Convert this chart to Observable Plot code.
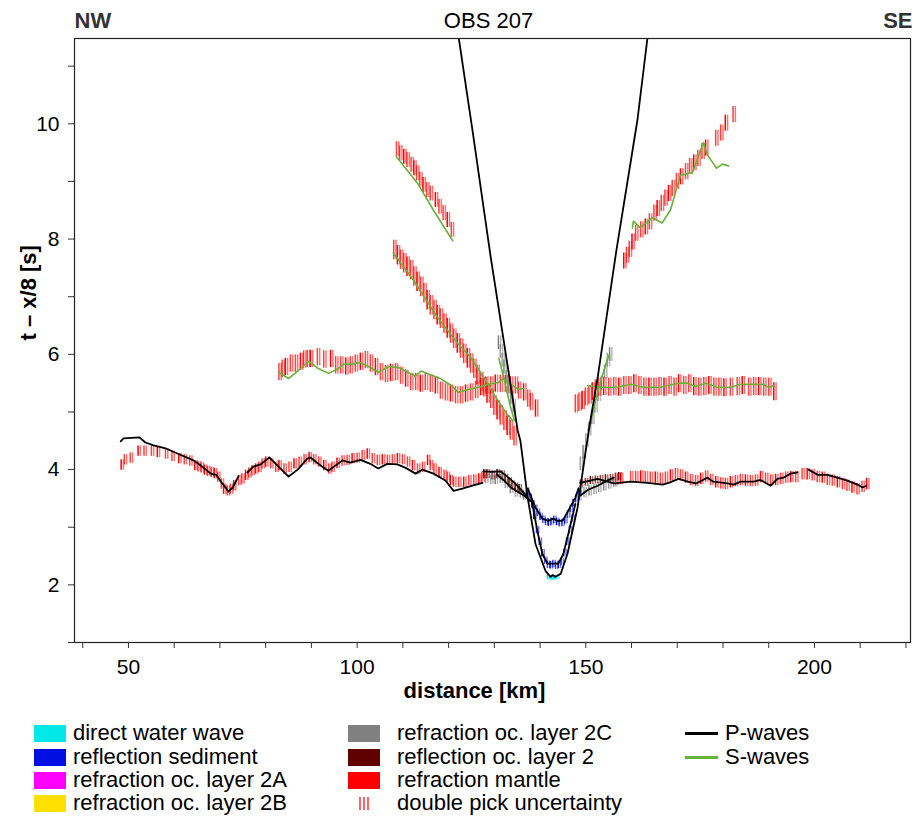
<!DOCTYPE html>
<html><head><meta charset="utf-8">
<script src="https://cdn.jsdelivr.net/npm/d3@7"></script>
<script src="https://cdn.jsdelivr.net/npm/@observablehq/plot@0.6"></script>
<style>
body{margin:0;background:#fff;font-family:"Liberation Sans",Arial,sans-serif;}
#wrap{position:relative;width:912px;height:819px;overflow:hidden;}
.lg{position:absolute;font-size:22px;line-height:22px;color:#000;white-space:nowrap;}
.sw{position:absolute;}
</style></head><body>
<div id="wrap"><div id="chart"></div><div id="legend"></div></div>
<script>
// ---------- axes ----------
const xTicks = [40,50,60,70,80,90,100,110,120,130,140,150,160,170,180,190,200,210,220];
const xLabels = [50,100,150,200];
const yTicks = [1,2,3,4,5,6,7,8,9,10,11];
const yLabels = [2,4,6,8,10];
const xDomain = [38.2, 221];
const yDomain = [1, 11.48];
const titleLeft = "NW", titleCenter = "OBS 207", titleRight = "SE";
const xTitle = "distance [km]", yTitle = "t \u2013 x/8 [s]";

// ---------- picks [distance km, reduced time s] ----------
const pnWest = [[48.4,4.08],[49.1,4.17],[50.4,4.20],[52.1,4.32],[53.4,4.32],[55.0,4.32],[56.3,4.30],[58.1,4.27],[59.5,4.23],[61.0,4.19],[62.2,4.17],[63.4,4.15],[64.5,4.07],[65.2,4.05],[65.9,4.03],[66.6,3.99],[67.3,3.97],[68.1,3.95],[68.8,3.93],[69.5,3.87],[70.3,3.75],[70.8,3.66],[71.6,3.63],[72.3,3.66],[73.0,3.72],[74.1,3.81],[74.8,3.84],[75.6,3.90],[76.3,3.94],[77.0,3.98],[77.8,4.01],[78.5,4.04],[79.2,4.10],[80.0,4.13],[81.1,4.10],[82.2,4.04],[82.9,4.07],[84.0,4.01],[85.1,4.04],[86.2,4.10],[87.3,4.13],[88.4,4.17],[89.5,4.21],[90.5,4.17],[91.6,4.13],[92.7,4.07],[93.8,4.01],[94.5,4.04],[95.6,4.11],[96.7,4.15],[97.8,4.16],[98.9,4.19],[100.0,4.20],[101.1,4.24],[102.2,4.27],[103.3,4.19],[104.4,4.16],[105.5,4.17],[106.6,4.16],[107.7,4.17],[108.8,4.19],[109.9,4.17],[111.0,4.13],[112.1,4.07],[113.2,4.01],[114.3,4.04],[115.4,4.16],[116.0,4.07],[116.8,4.01],[117.9,3.95],[119.0,3.90],[119.7,3.87],[120.4,3.81],[121.1,3.78],[122.2,3.78],[123.3,3.78],[124.4,3.81],[125.5,3.82],[126.6,3.84],[127.3,3.87]];
const pnEast = [[156.5,3.82],[157.6,3.84],[159.8,3.87],[160.9,3.87],[162.0,3.88],[163.0,3.87],[164.1,3.86],[165.2,3.86],[166.3,3.84],[167.4,3.86],[168.5,3.90],[169.6,3.92],[170.7,3.90],[171.8,3.86],[172.9,3.82],[174.0,3.80],[175.1,3.84],[176.2,3.88],[177.3,3.82],[178.4,3.78],[179.5,3.76],[180.5,3.75],[181.6,3.78],[182.7,3.80],[183.8,3.82],[184.9,3.81],[186.0,3.80],[187.1,3.81],[188.2,3.87],[189.3,3.84],[190.4,3.81],[191.5,3.82],[192.6,3.84],[193.7,3.86],[194.8,3.87],[195.9,3.87],[197.3,3.92],[198.4,3.92],[199.5,3.90],[200.6,3.87],[201.7,3.86],[202.8,3.82],[203.9,3.81],[205.0,3.78],[206.1,3.75],[207.1,3.72],[208.2,3.69],[209.3,3.66],[210.4,3.70],[211.4,3.75]];
const sWest = [[82.9,5.69],[83.6,5.75],[84.3,5.78],[85.4,5.84],[86.5,5.84],[87.6,5.87],[88.3,5.91],[89.1,5.92],[89.8,5.92],[91.3,5.95],[92.7,5.91],[94.2,5.92],[95.3,5.81],[96.4,5.81],[97.5,5.79],[98.5,5.81],[99.6,5.84],[100.7,5.87],[101.8,5.90],[102.9,5.84],[104.0,5.78],[105.1,5.69],[106.2,5.66],[107.3,5.68],[108.4,5.69],[109.5,5.63],[110.6,5.58],[111.7,5.52],[112.8,5.52],[113.8,5.49],[114.9,5.52],[116.0,5.49],[117.1,5.46],[118.2,5.37],[119.3,5.34],[120.4,5.32],[121.5,5.29],[122.6,5.29],[123.7,5.32],[124.8,5.34],[125.9,5.38],[127.0,5.43],[128.1,5.46],[129.2,5.46],[130.2,5.49],[131.3,5.49],[132.4,5.49],[133.5,5.46],[134.6,5.46],[135.3,5.37],[136.4,5.34],[137.3,5.23],[137.9,5.17],[139.0,5.06]];
const sEast = [[147.7,5.14],[148.5,5.17],[149.2,5.20],[149.9,5.26],[150.7,5.29],[151.4,5.35],[152.1,5.40],[152.8,5.43],[153.9,5.44],[155.0,5.43],[156.1,5.44],[157.2,5.43],[158.3,5.46],[159.4,5.46],[160.5,5.49],[161.6,5.46],[162.7,5.43],[163.8,5.43],[164.9,5.43],[166.0,5.44],[167.1,5.43],[168.2,5.46],[169.3,5.43],[170.3,5.49],[171.4,5.46],[172.5,5.49],[173.6,5.44],[174.7,5.43],[175.8,5.44],[176.9,5.46],[178.0,5.43],[179.1,5.43],[180.2,5.42],[181.6,5.43],[183.1,5.44],[184.2,5.46],[185.6,5.43],[186.7,5.44],[187.8,5.44],[188.9,5.43],[190.0,5.43],[191.1,5.35]];
const sSteep1 = [[108.6,9.56],[109.3,9.49],[110.2,9.43],[110.9,9.37],[111.8,9.29],[112.4,9.23],[113.0,9.14],[113.7,9.03],[114.4,8.94],[115.2,8.85],[116.0,8.79],[117.1,8.68],[117.9,8.56],[118.8,8.45],[119.7,8.33],[120.6,8.16]];
const sSteep2 = [[108.0,7.81],[108.8,7.72],[109.5,7.64],[110.2,7.58],[110.9,7.52],[111.7,7.46],[112.4,7.35],[113.1,7.26],[113.9,7.17],[114.6,7.06],[115.3,6.94],[116.0,6.85],[116.8,6.77],[117.5,6.68],[118.2,6.62],[119.0,6.53],[119.7,6.45],[120.4,6.36],[121.1,6.27],[121.9,6.19],[122.6,6.10],[123.3,6.01],[124.1,5.93],[124.8,5.84],[125.5,5.75],[126.2,5.64],[127.0,5.52],[127.7,5.43],[128.4,5.32],[129.2,5.23],[129.9,5.11],[130.6,5.03],[131.3,4.94],[132.1,4.85],[132.8,4.76],[133.5,4.68],[134.3,4.58]];
const sSteepE = [[158.3,7.62],[158.9,7.72],[159.5,7.82],[160.1,7.95],[160.9,8.10],[162.0,8.16],[163.0,8.21],[163.9,8.30],[164.9,8.45],[165.6,8.53],[166.5,8.62],[167.3,8.71],[168.1,8.79],[168.9,8.88],[169.8,9.00],[170.7,9.08],[171.8,9.17],[172.7,9.26],[173.6,9.32],[174.5,9.40],[175.4,9.52],[176.2,9.58],[178.4,9.75],[179.5,9.84],[180.5,10.01],[182.2,10.16]];
const grey2cSteepW = [[130.9,6.20],[131.3,6.05],[131.7,5.90],[132.1,5.78],[132.6,5.60],[133.1,5.42],[133.6,5.25],[134.1,5.10]];
const grey2cSteepE = [[148.8,4.10],[149.4,4.30],[150.0,4.50],[150.6,4.70],[151.3,4.90],[152.0,5.10],[152.7,5.30],[153.4,5.50],[154.1,5.70],[154.7,5.90],[155.2,6.00]];
const grey2cW = [[128.1,3.84],[129.2,3.82],[130.2,3.82],[131.3,3.84],[132.4,3.75],[133.5,3.66],[134.6,3.60],[135.7,3.58],[136.4,3.55]];
const grey2cE = [[148.5,3.55],[149.6,3.60],[150.7,3.63],[151.8,3.66],[152.8,3.69],[153.9,3.72],[155.0,3.75],[156.1,3.78]];
const refl2W = [[127.7,3.92],[128.4,3.92],[129.5,3.90],[130.6,3.92],[131.7,3.90],[132.4,3.84],[133.2,3.78],[133.9,3.72],[134.6,3.69],[135.4,3.66]];
const refl2E = [[148.8,3.75],[149.9,3.78],[151.0,3.81],[152.1,3.82],[153.2,3.83],[154.3,3.84],[155.4,3.85],[156.5,3.87],[157.2,3.88]];
const sedUpper = [[137.0,3.62],[137.6,3.50],[138.2,3.40],[138.8,3.32],[139.4,3.25],[140.0,3.18],[140.6,3.13],[141.2,3.09],[141.8,3.08],[142.4,3.10],[143.0,3.13],[143.6,3.09],[144.2,3.07],[144.8,3.08],[145.4,3.12],[146.0,3.22],[146.6,3.32],[147.2,3.42],[147.8,3.50],[148.4,3.62]];
const sedLower = [[138.6,3.20],[139.2,2.95],[139.8,2.75],[140.4,2.55],[141.0,2.42],[141.6,2.35],[142.2,2.34],[142.8,2.36],[143.4,2.33],[144.0,2.35],[144.6,2.40],[145.2,2.55],[145.8,2.75],[146.4,2.95],[147.0,3.15]];
const waterPicks = [[141.6,2.13],[142.0,2.12],[142.4,2.11],[142.8,2.12],[143.2,2.12],[143.6,2.13]];
// half pick uncertainties (s)
const uncPn = 0.09, uncS = 0.15, uncSteep1 = 0.13, uncSteep2 = 0.17, uncSteepE = 0.14, uncCrust = 0.08, uncSed = 0.065, uncWater = 0.035;

// ---------- model travel-time curves ----------
const pWest1 = [[48.3,4.49],[48.9,4.54],[52.4,4.56],[53.7,4.47],[55.5,4.42],[58.1,4.37],[60.7,4.28],[64.2,4.16],[65.8,4.07],[68.0,3.93],[69.2,3.91],[70.5,3.76],[71.9,3.62],[72.8,3.69],[74.1,3.89]];
const pWest2 = [[76.0,3.95],[77.3,4.05],[78.9,4.09],[80.8,4.21],[82.6,4.07],[85.0,3.88],[87.0,4.00],[89.1,4.19],[89.8,4.21],[92.0,4.07],[93.7,3.98],[96.8,4.16],[98.5,4.12],[100.7,4.17],[102.9,4.10],[104.6,4.02],[106.6,4.10],[108.8,4.09],[110.6,4.03],[112.8,3.93],[114.3,4.00],[116.7,3.93],[119.3,3.81],[121.1,3.63],[123.0,3.67],[125.2,3.72],[127.4,3.77]];
const pWest3 = [[127.6,3.97],[129.5,3.96],[131.3,3.97],[132.5,3.90],[134.0,3.80],[135.5,3.68],[137.0,3.55]];
const pWest4 = [[130.5,3.92],[132.0,3.82],[133.5,3.70],[135.0,3.62],[136.5,3.55],[138.0,3.45]];
const pEast1 = [[148.8,3.55],[150.5,3.65],[152.6,3.72],[154.5,3.80],[156.1,3.86]];
const pEast2 = [[148.8,3.77],[152.6,3.84],[156.1,3.76],[159.8,3.79],[163.5,3.77],[166.8,3.74],[168.1,3.77],[170.3,3.84],[172.3,3.79],[174.1,3.76],[176.6,3.86],[177.9,3.79],[181.0,3.76],[182.3,3.74],[183.9,3.79],[186.7,3.79],[188.2,3.82],[190.4,3.72],[191.9,3.84],[193.2,3.86],[194.8,3.93],[196.3,3.95]];
const pEast3 = [[198.7,4.00],[200.7,3.91],[202.8,3.91],[205.0,3.86],[207.2,3.81],[209.4,3.74],[210.5,3.69],[211.4,3.72]];
const waterWave = [[122.2,11.5],[125.2,9.90],[129.2,7.69],[135.1,4.68],[135.7,4.50],[137.3,3.51],[139.0,2.71],[141.2,2.24],[142.3,2.14],[142.8,2.17],[143.3,2.14],[144.5,2.19],[146.0,2.54],[148.2,3.34],[149.9,4.28],[151.0,4.85],[152.6,5.60],[156.7,7.81],[161.3,10.07],[163.5,11.5]];
const sedDeep = [[137.9,3.58],[139.4,2.94],[140.5,2.54],[141.6,2.37],[142.9,2.37],[144.0,2.37],[145.1,2.54],[146.2,2.89],[147.7,3.40]];
const sedShallow = [[137.3,3.67],[139.0,3.34],[140.5,3.15],[141.8,3.11],[142.9,3.15],[143.8,3.11],[144.9,3.11],[146.2,3.29],[147.7,3.51],[148.4,3.67]];
const sLine1 = [[108.6,9.43],[113.2,8.97],[116.7,8.50],[120.9,7.97]];
const sLine2 = [[107.9,7.76],[112.3,7.29],[117.6,6.64],[122.0,6.19],[124.8,5.95],[128.5,5.50],[130.6,5.22],[132.9,4.95],[134.0,4.85]];
const sLine3 = [[82.8,5.69],[85.0,5.58],[87.2,5.72],[89.4,5.88],[91.4,5.76],[93.8,5.67],[96.0,5.76],[97.0,5.83],[99.0,5.83],[100.6,5.86],[102.5,5.79],[104.7,5.69],[106.9,5.79],[109.1,5.77],[111.1,5.69],[112.7,5.62],[114.0,5.71],[116.2,5.64],[118.4,5.57],[120.6,5.46],[122.1,5.34],[124.3,5.39],[126.5,5.43],[128.7,5.48],[130.9,5.51],[132.0,5.58],[133.1,5.50],[135.3,5.39],[136.4,5.41]];
const sLine4 = [[131.0,5.93],[132.2,5.55],[133.5,5.10],[134.4,4.85]];
const sLine5 = [[150.5,4.68],[151.5,4.97],[152.5,5.32],[153.6,5.63],[155.0,5.98]];
const sLine6 = [[150.4,5.46],[153.2,5.43],[156.9,5.43],[159.8,5.48],[162.6,5.43],[166.3,5.43],[169.2,5.48],[170.7,5.50],[172.2,5.50],[174.0,5.44],[176.2,5.50],[178.8,5.43],[181.7,5.43],[183.8,5.48],[186.0,5.48],[188.7,5.48],[190.0,5.43],[191.1,5.46]];
const sLine7 = [[160.2,8.19],[160.4,8.31],[161.9,8.20],[164.6,8.37],[166.7,8.28],[168.5,8.50],[170.7,9.11],[173.3,9.15],[175.7,9.67],[176.6,9.46],[178.6,9.23],[179.9,9.30],[181.2,9.27]];

// ---------- legend ----------
const legendNames = ["direct water wave","reflection sediment","refraction oc. layer 2A","refraction oc. layer 2B","refraction oc. layer 2C","reflection oc. layer 2","refraction mantle","double pick uncertainty"];
const legendColors = ["#00e8e8","#0010e0","#ff00ff","#ffe000","#808080","#600000","#ff0000",null];
const lineNames = ["P-waves","S-waves"];
const lineColors = ["#000000","#66b23a"];

// ---------- build ----------
const pk = (arr, hw, color) => arr.map(([x,t]) => ({x, t, hw, color}));
const redPicks = [].concat(pk(pnWest,uncPn,"#ff0000"), pk(pnEast,uncPn*1.1,"#ff0000"), pk(sWest,uncS,"#ff0000"), pk(sEast,uncS*1.05,"#ff0000"), pk(sSteep1,uncSteep1,"#ff0000"), pk(sSteep2,uncSteep2,"#ff0000"), pk(sSteepE,uncSteepE,"#ff0000"));
const otherPicks = [].concat(pk(grey2cSteepW,0.12,legendColors[4]), pk(grey2cSteepE,0.12,legendColors[4]), pk(grey2cW,uncCrust,legendColors[4]), pk(grey2cE,0.09,legendColors[4]), pk(refl2W,uncCrust,legendColors[5]), pk(refl2E,0.07,legendColors[5]), pk(sedUpper,uncSed,legendColors[1]), pk(sedLower,uncSed,legendColors[1]), pk(waterPicks,uncWater,legendColors[0]));
const allPicks = otherPicks.concat(redPicks);

const pLines = [pWest1,pWest2,pWest3,pWest4,pEast1,pEast2,pEast3,waterWave,sedDeep,sedShallow];
const sLines = [sLine1,sLine2,sLine3,sLine4,sLine5,sLine6,sLine7];
const toRows = (lines) => lines.flatMap((l, k) => l.map(([x,t]) => ({x, t, k})));

const pickOpts = (extra) => Object.assign({
  x: "x", y1: d => d.t - d.hw, y2: d => d.t + d.hw,
  stroke: d => d.color, strokeWidth: 1.5, clip: true
}, extra);

const chart = Plot.plot({
  width: 912, height: 712,
  marginLeft: 74, marginRight: 2, marginTop: 38, marginBottom: 70,
  x: {domain: xDomain},
  y: {domain: yDomain},
  style: {fontFamily: "'Liberation Sans', Arial, sans-serif", fontSize: "21px", color: "#000", background: "#fff", overflow: "visible"},
  marks: [
    Plot.ruleX(allPicks, pickOpts({strokeOpacity: (d,i) => i % 3 === 0 ? 1 : 0.75})),
    Plot.ruleX(allPicks, pickOpts({dx: 2.3, strokeOpacity: 0.55})),
    Plot.line(toRows(sLines), {x: "x", y: "t", z: "k", stroke: lineColors[1], strokeWidth: 1.6, clip: true}),
    Plot.line(toRows(pLines), {x: "x", y: "t", z: "k", stroke: lineColors[0], strokeWidth: 1.8, clip: true}),
    Plot.frame({stroke: "#222", strokeWidth: 1.2}),
    Plot.axisY({ticks: yTicks, tickFormat: d => yLabels.includes(d) ? String(d) : "", tickSize: 6, tickPadding: 9, label: null, stroke: "#333"}),
    Plot.axisX({ticks: xTicks, tickFormat: d => xLabels.includes(d) ? String(d) : "", tickSize: 6, tickPadding: 11, label: null, stroke: "#333"}),
    Plot.text([titleLeft], {frameAnchor: "top-left", textAnchor: "start", lineAnchor: "middle", dy: -18, fontWeight: "bold", fontSize: 22, fill: "#333"}),
    Plot.text([titleCenter], {frameAnchor: "top", lineAnchor: "middle", dy: -18, dx: -4, fontSize: 22}),
    Plot.text([titleRight], {frameAnchor: "top-right", textAnchor: "end", lineAnchor: "middle", dy: -18, dx: 2, fontWeight: "bold", fontSize: 22, fill: "#333"}),
    Plot.text([xTitle], {frameAnchor: "bottom", lineAnchor: "middle", dy: 48, dx: -18, fontWeight: "bold", fontSize: 22}),
    Plot.text([yTitle], {frameAnchor: "left", rotate: -90, dx: -46, fontWeight: "bold", fontSize: 22})
  ]
});
document.getElementById("chart").appendChild(chart);

// legend (HTML)
const lg = document.getElementById("legend");
const colX = [34, 348, 685];
const rowY = [733, 757, 780, 803];
legendNames.forEach((name, i) => {
  const col = Math.floor(i / 4), row = i % 4;
  const c = legendColors[i];
  if (c) {
    const s = document.createElement("div");
    s.className = "sw";
    Object.assign(s.style, {left: colX[col] + "px", top: (rowY[row] - 8.5) + "px", width: "32px", height: "17px", background: c});
    lg.appendChild(s);
  } else {
    const s = document.createElementNS("http://www.w3.org/2000/svg", "svg");
    s.setAttribute("width", 32); s.setAttribute("height", 20);
    Object.assign(s.style, {position: "absolute", left: colX[col] + "px", top: (rowY[row] - 9) + "px"});
    [12, 16, 20].forEach(px => {
      const l = document.createElementNS("http://www.w3.org/2000/svg", "line");
      l.setAttribute("x1", px); l.setAttribute("x2", px); l.setAttribute("y1", 3); l.setAttribute("y2", 16);
      l.setAttribute("stroke", "red"); l.setAttribute("stroke-width", 1.2);
      s.appendChild(l);
    });
    lg.appendChild(s);
  }
  const t = document.createElement("div");
  t.className = "lg";
  t.textContent = name;
  Object.assign(t.style, {left: (colX[col] + (col === 0 ? 39 : 49)) + "px", top: (rowY[row] - 11) + "px"});
  lg.appendChild(t);
});
lineNames.forEach((name, i) => {
  const s = document.createElement("div");
  s.className = "sw";
  Object.assign(s.style, {left: colX[2] + "px", top: (rowY[i] - 1) + "px", width: "33px", height: "2.5px", background: lineColors[i]});
  lg.appendChild(s);
  const t = document.createElement("div");
  t.className = "lg";
  t.textContent = name;
  Object.assign(t.style, {left: (colX[2] + 40) + "px", top: (rowY[i] - 11) + "px"});
  lg.appendChild(t);
});
</script>
</body></html>
